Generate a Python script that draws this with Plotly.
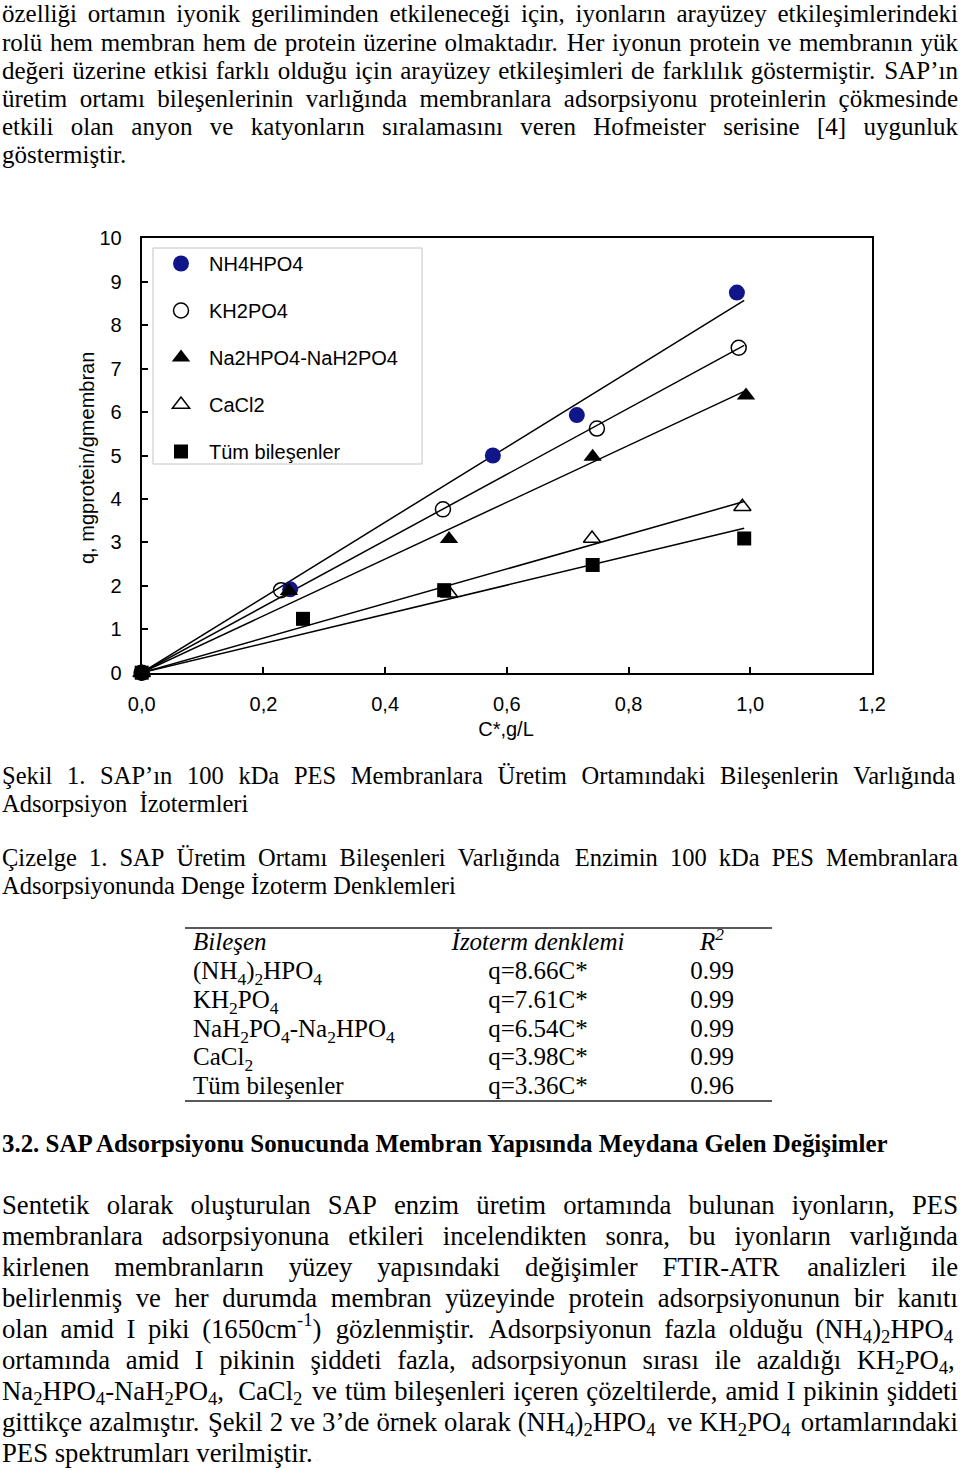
import re
import plotly.graph_objects as go

# ---------------- chart data ----------------
series_names = ["NH4HPO4", "KH2PO4", "Na2HPO4-NaH2PO4", "CaCl2", "Tüm bileşenler"]
nh4_x = [0.0, 0.244, 0.577, 0.715, 0.978]
nh4_y = [0.0, 1.92, 5.00, 5.93, 8.75]
kh2_x = [0.0, 0.229, 0.495, 0.748, 0.981]
kh2_y = [0.0, 1.90, 3.76, 5.62, 7.48]
na2_x = [0.0, 0.242, 0.505, 0.741, 0.993]
na2_y = [0.0, 1.88, 3.08, 4.97, 6.38]
cacl_x = [0.0, 0.505, 0.740, 0.987]
cacl_y = [0.0, 1.83, 3.09, 3.82]
tum_x = [0.0, 0.265, 0.497, 0.741, 0.990]
tum_y = [0.0, 1.24, 1.90, 2.48, 3.09]

# isotherm fits q = k * C*  (table values)
slopes = [8.66, 7.61, 6.54, 3.98, 3.36]
r2_values = [0.99, 0.99, 0.99, 0.99, 0.96]
fit_x = [0.0, 0.99]

x_ticks = [0.0, 0.2, 0.4, 0.6, 0.8, 1.0, 1.2]
y_ticks = list(range(0, 11))

table_names = [
    "(NH<sub>4</sub>)<sub>2</sub>HPO<sub>4</sub>",
    "KH<sub>2</sub>PO<sub>4</sub>",
    "NaH<sub>2</sub>PO<sub>4</sub>-Na<sub>2</sub>HPO<sub>4</sub>",
    "CaCl<sub>2</sub>",
    "Tüm bileşenler",
]

# ---------------- page text ----------------
top_para = [
    "özelliği ortamın iyonik geriliminden etkileneceği için, iyonların arayüzey etkileşimlerindeki",
    "rolü hem membran hem de protein üzerine olmaktadır. Her iyonun protein ve membranın yük",
    "değeri üzerine etkisi farklı olduğu için arayüzey etkileşimleri de farklılık göstermiştir. SAP’ın",
    "üretim ortamı bileşenlerinin varlığında membranlara adsorpsiyonu proteinlerin çökmesinde",
    "etkili olan anyon ve katyonların sıralamasını veren Hofmeister serisine [4] uygunluk",
    "göstermiştir.",
]
caption_lines = [
    "Şekil 1. SAP’ın 100 kDa PES Membranlara Üretim Ortamındaki Bileşenlerin Varlığında",
    "Adsorpsiyon  İzotermleri",
    "Çizelge 1. SAP Üretim Ortamı Bileşenleri  Varlığında Enzimin 100 kDa PES Membranlara",
    "Adsorpsiyonunda Denge İzoterm Denklemleri",
]
heading = "<b>3.2. SAP Adsorpsiyonu Sonucunda Membran Yapısında Meydana Gelen Değişimler</b>"
bottom_para = [
    "Sentetik olarak oluşturulan SAP enzim üretim ortamında bulunan iyonların, PES",
    "membranlara adsorpsiyonuna etkileri incelendikten sonra, bu iyonların varlığında",
    "kirlenen membranların yüzey yapısındaki değişimler FTIR-ATR analizleri ile",
    "belirlenmiş ve her durumda membran yüzeyinde protein adsorpsiyonunun bir kanıtı",
    "olan amid I piki (1650cm<sup>-1</sup>) gözlenmiştir. Adsorpsiyonun fazla olduğu (NH<sub>4</sub>)<sub>2</sub>HPO<sub>4</sub>",
    "ortamında amid I pikinin şiddeti fazla, adsorpsiyonun sırası ile azaldığı KH<sub>2</sub>PO<sub>4</sub>,",
    "Na<sub>2</sub>HPO<sub>4</sub>-NaH<sub>2</sub>PO<sub>4</sub>, CaCl<sub>2</sub> ve tüm bileşenleri içeren çözeltilerde, amid I pikinin şiddeti",
    "gittikçe azalmıştır. Şekil 2 ve 3’de örnek olarak (NH<sub>4</sub>)<sub>2</sub>HPO<sub>4</sub> ve KH<sub>2</sub>PO<sub>4</sub> ortamlarındaki",
    "PES spektrumları verilmiştir.",
]

SERIF = "Liberation Serif, Times New Roman, serif"
SANS = "Liberation Sans, Arial, sans-serif"

PAGE_W, PAGE_H = 960, 1470
PLOT_L, PLOT_R, PLOT_T, PLOT_B = 141.7, 872.0, 238.3, 672.7

# Times / Liberation Serif advance widths (1/1000 em)
CW = {' ': 250, '.': 250, ',': 250, ':': 278, ';': 278, '(': 333, ')': 333,
      '[': 333, ']': 333, '-': 333, '’': 333, "'": 180, '*': 500, '=': 564, '/': 278}
for c in '0123456789':
    CW[c] = 500
CW.update(dict(a=444, b=500, c=444, d=500, e=444, f=333, g=500, h=500, i=278, j=278,
               k=500, l=278, m=778, n=500, o=500, p=500, q=500, r=333, s=389, t=278,
               u=500, v=500, w=722, x=500, y=500, z=444))
CW.update(dict(A=722, B=667, C=667, D=722, E=611, F=556, G=722, H=722, I=333, J=389,
               K=722, L=611, M=889, N=722, O=722, P=556, Q=722, R=667, S=556, T=611,
               U=722, V=722, W=944, X=722, Y=722, Z=611))
CW.update({'ö': 500, 'ü': 500, 'ç': 444, 'ğ': 500, 'ş': 389, 'ı': 278,
           'İ': 333, 'Ş': 556, 'Ç': 667, 'Ü': 722, 'Ö': 722})


def text_width(html, fs):
    total, scale = 0.0, 1.0
    for tok in re.split(r'(<[^>]+>)', html):
        if tok.startswith('<'):
            if tok in ('<sub>', '<sup>'):
                scale = 0.7
            elif tok in ('</sub>', '</sup>'):
                scale = 1.0
                total += 60  # small gap after a shifted run
            continue
        for ch in tok:
            total += CW.get(ch, 500) * scale
    return total * fs / 1000.0


def layout_line(line, y, fs, justify, x0=2.0, x1=958.0):
    words = line.split(' ')
    widths = [text_width(w, fs) for w in words]
    real = [w for w in words if w]
    if justify and len(real) > 1:
        gap = (x1 - x0 - sum(widths)) / (len(real) - 1)
        words_iter = [(w, wd) for w, wd in zip(words, widths) if w]
    else:
        gap = 0.25 * fs
        words_iter = list(zip(words, widths))
    xs, ys, ts = [], [], []
    x = x0
    for w, wd in words_iter:
        if w:
            xs.append(x)
            ys.append(y)
            ts.append(w)
            x += wd + gap
        else:
            x += gap
    return xs, ys, ts


def text_block(lines, y_positions, fs, last_left=True, justify_flags=None):
    X, Y, T = [], [], []
    for i, (ln, y) in enumerate(zip(lines, y_positions)):
        if justify_flags is not None:
            j = justify_flags[i]
        else:
            j = not (last_left and i == len(lines) - 1)
        xs, ys, ts = layout_line(ln, y, fs, j)
        X += xs
        Y += ys
        T += ts
    return X, Y, T


fig = go.Figure()

# ---- fitted isotherm lines ----
for k in slopes:
    fig.add_trace(go.Scatter(
        x=fit_x, y=[k * v for v in fit_x], mode="lines",
        line=dict(color="black", width=1.5), showlegend=False, hoverinfo="skip"))

# ---- measured points ----
styles = [
    dict(symbol="circle", size=16, color="#10168a", line=dict(width=0)),
    dict(symbol="circle-open", size=15, color="black", line=dict(width=1.5, color="black")),
    dict(symbol="triangle-up", size=16, color="black", line=dict(width=0)),
    dict(symbol="triangle-up-open", size=15, color="black", line=dict(width=1.5, color="black")),
    dict(symbol="square", size=14, color="black", line=dict(width=0)),
]
xs_all = [nh4_x, kh2_x, na2_x, cacl_x, tum_x]
ys_all = [nh4_y, kh2_y, na2_y, cacl_y, tum_y]
for i, (name, xs, ys, st) in enumerate(zip(series_names, xs_all, ys_all, styles)):
    fig.add_trace(go.Scatter(
        x=xs, y=ys, mode="markers", name=name, marker=st,
        legendgroup=f"g{i}", cliponaxis=False))


# ---- page text (page coordinates on an invisible full-page axis) ----
def add_text(X, Y, T, fs, family=SERIF, pos="middle right"):
    fig.add_trace(go.Scatter(
        x=X, y=Y, text=T, mode="text", textposition=pos,
        textfont=dict(family=family, size=fs, color="black"),
        xaxis="x2", yaxis="y2", cliponaxis=False, showlegend=False, hoverinfo="skip"))


top_y = [16.2, 44.3, 72.4, 100.5, 128.6, 156.7]
add_text(*text_block(top_para, top_y, 25), 25)

cap_y = [778, 806, 860, 888]
add_text(*text_block(caption_lines, cap_y, 24.5, justify_flags=[True, False, True, False]), 24.5)

add_text([2], [1146], [heading], 24.9)

bot_y = [1207 + 31 * i for i in range(len(bottom_para))]
add_text(*text_block(bottom_para, bot_y, 26.7), 26.7)

# table
row_y = [973, 1002, 1031, 1059, 1088]
add_text([193], [944], ["<i>Bileşen</i>"], 25)
add_text([538, 712], [944, 944], ["<i>İzoterm denklemi</i>", "<i>R<sup>2</sup></i>"], 25, pos="middle center")
add_text([193] * len(table_names), row_y, table_names, 25)
add_text([538] * len(slopes), row_y, [f"q={k:.2f}C*" for k in slopes], 25, pos="middle center")
add_text([712] * len(r2_values), row_y, [f"{r:.2f}" for r in r2_values], 25, pos="middle center")

# x axis title
add_text([506], [731], ["C*,g/L"], 20, family=SANS, pos="middle center")

# table rules
fig.add_shape(type="line", xref="x2", yref="y2", x0=185, x1=772, y0=928, y1=928,
              line=dict(color="#222222", width=1.5))
fig.add_shape(type="line", xref="x2", yref="y2", x0=185, x1=772, y0=1101, y1=1101,
              line=dict(color="#222222", width=1.5))
# legend frame
fig.add_shape(type="rect", xref="x2", yref="y2", x0=153, x1=422, y0=248, y1=464,
              line=dict(color="#c4c4c4", width=1), fillcolor="rgba(0,0,0,0)")

# y axis title
fig.add_annotation(text="q, mgprotein/gmembran", xref="paper", yref="paper",
                   x=87 / PAGE_W, y=1 - 458 / PAGE_H, textangle=-90, showarrow=False,
                   xanchor="center", yanchor="middle",
                   font=dict(family=SANS, size=20, color="black"))

axis_common = dict(showline=True, mirror=True, linecolor="black", linewidth=2,
                   ticks="inside", ticklen=6, tickwidth=1.5, tickcolor="black",
                   showgrid=False, zeroline=False,
                   tickfont=dict(family=SANS, size=20, color="black"))

fig.update_layout(
    width=PAGE_W, height=PAGE_H,
    margin=dict(l=0, r=0, t=0, b=0, autoexpand=False),
    paper_bgcolor="white", plot_bgcolor="rgba(0,0,0,0)",
    separators=",.",
    xaxis=dict(domain=[PLOT_L / PAGE_W, PLOT_R / PAGE_W], range=[0, 1.2],
               tickvals=x_ticks, tickformat=".1f", ticklabelstandoff=12, anchor="y",
               **axis_common),
    yaxis=dict(domain=[1 - PLOT_B / PAGE_H, 1 - PLOT_T / PAGE_H], range=[0, 10],
               tickvals=y_ticks, ticklabelstandoff=14, anchor="x", **axis_common),
    xaxis2=dict(domain=[0, 1], range=[0, PAGE_W], visible=False, anchor="y2", fixedrange=True),
    yaxis2=dict(domain=[0, 1], range=[PAGE_H, 0], visible=False, anchor="x2", fixedrange=True),
    legend=dict(x=153 / PAGE_W, y=1 - 244 / PAGE_H, xanchor="left", yanchor="top",
                bgcolor="rgba(0,0,0,0)", borderwidth=0,
                font=dict(family=SANS, size=20, color="black"),
                itemwidth=46, tracegroupgap=18, traceorder="grouped"),
    showlegend=True,
)

fig.write_html("out.html", config={"displayModeBar": False},
               post_script="document.body.style.margin='0px';document.body.style.overflow='hidden';")
